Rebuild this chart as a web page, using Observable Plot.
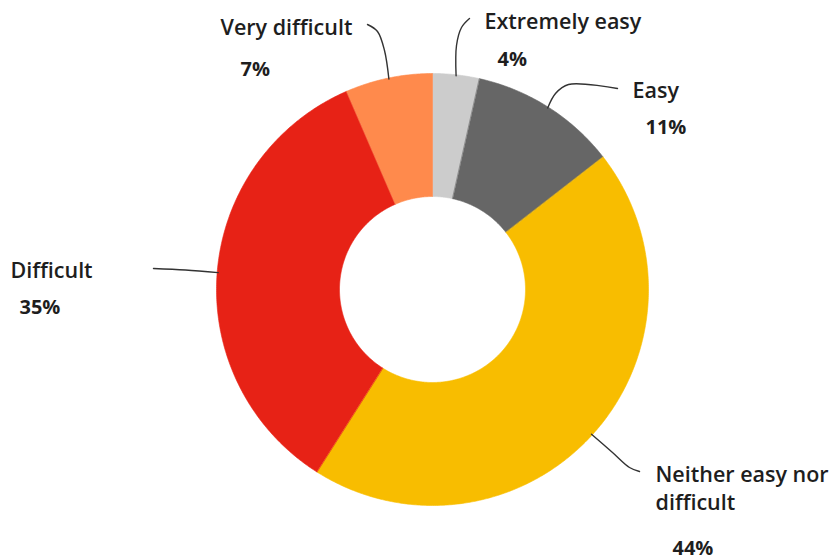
<!DOCTYPE html>
<html>
<head>
<meta charset="utf-8">
<script src="https://cdn.jsdelivr.net/npm/d3@7"></script>
<script src="https://cdn.jsdelivr.net/npm/@observablehq/plot@0.6"></script>
<style>
  html, body { margin: 0; padding: 0; background: #fff; }
  #chart svg { display: block; }
</style>
</head>
<body>
<div id="chart"></div>
<script>
// ---- data (clockwise from 12 o'clock) ----
const categories = ["Extremely easy", "Easy", "Neither easy nor difficult", "Difficult", "Very difficult"];
const shares = [3.5, 11, 44.5, 34.5, 6.5];           // slice sizes
const percentLabels = ["4%", "11%", "44%", "35%", "7%"];
const labelText = ["Extremely easy", "Easy", "Neither easy nor\ndifficult", "Difficult", "Very difficult"];
const colors = ["#cccccc", "#666666", "#f8bd00", "#e72216", "#ff8a4c"];

// ---- layout (pixels) ----
const W = 832, H = 555;
const cx = 432, cy = 289, R = 216, r0 = 93;
const labelPos = [[484, 20], [632, 89], [655, 487], [10, 269], [220, 26]];
const pctPos   = [[497, 59], [645, 127], [672, 548], [19, 307], [240, 69]];
// leader line: points from label end toward the slice (the last point is computed on the arc)
const leaderPts = [
  [[469, 18], [461, 27], [456, 45]],
  [[617, 88], [568, 84], [555, 93]],
  [[639, 471], [629, 467], [612, 452]],
  [[153, 268], [185, 269.5]],
  [[367, 24], [377, 31], [384, 50]]
];

const total = d3.sum(shares);
let acc = 0;
const slices = categories.map((c, i) => {
  const a0 = acc / total * 2 * Math.PI;
  acc += shares[i];
  const a1 = acc / total * 2 * Math.PI;
  return {cat: c, a0, a1, mid: (a0 + a1) / 2, i};
});
const px = (rad, a) => cx + rad * Math.sin(a);
const py = (rad, a) => cy - rad * Math.cos(a);

const polys = [];
for (const s of slices) {
  const n = Math.max(4, Math.ceil((s.a1 - s.a0) / (Math.PI / 360)));
  for (let k = 0; k <= n; k++) {
    const a = s.a0 + (s.a1 - s.a0) * k / n;
    polys.push({cat: s.cat, x: px(R, a), y: py(R, a)});
  }
  for (let k = n; k >= 0; k--) {
    const a = s.a0 + (s.a1 - s.a0) * k / n;
    polys.push({cat: s.cat, x: px(r0, a), y: py(r0, a)});
  }
}

const leaders = [];
slices.forEach((s, i) => {
  for (const [x, y] of leaderPts[i]) leaders.push({cat: s.cat, x, y});
  leaders.push({cat: s.cat, x: px(R - 1, s.mid), y: py(R - 1, s.mid)});
});

const labels = categories.map((c, i) => ({cat: c, x: labelPos[i][0], y: labelPos[i][1], text: labelText[i]}));
const pcts = categories.map((c, i) => ({cat: c, x: pctPos[i][0], y: pctPos[i][1], text: percentLabels[i]}));

const chart = Plot.plot({
  width: W, height: H,
  margin: 0,
  x: {domain: [0, W], range: [0, W], axis: null},
  y: {domain: [0, H], range: [0, H], axis: null},
  color: {domain: categories, range: colors},
  style: {background: "#fff"},
  marks: [
    Plot.line(polys, {x: "x", y: "y", z: "cat", fill: "cat", stroke: "cat", strokeWidth: 0.6, curve: "linear-closed"}),
    Plot.line(leaders, {x: "x", y: "y", z: "cat", stroke: "#333", strokeWidth: 1.4, curve: "catmull-rom"}),
    Plot.text(labels, {x: "x", y: "y", text: "text", textAnchor: "start", lineAnchor: "middle", lineHeight: 1.3,
      fontSize: 21.5, fontWeight: 600, fill: "#1e1e1e", fontFamily: "Open Sans"}),
    Plot.text(pcts, {x: "x", y: "y", text: "text", textAnchor: "start", lineAnchor: "middle",
      fontSize: 20, fontWeight: 700, fill: "#1e1e1e", fontFamily: "Open Sans"})
  ]
});
document.getElementById("chart").append(chart);
</script>
</body>
</html>
